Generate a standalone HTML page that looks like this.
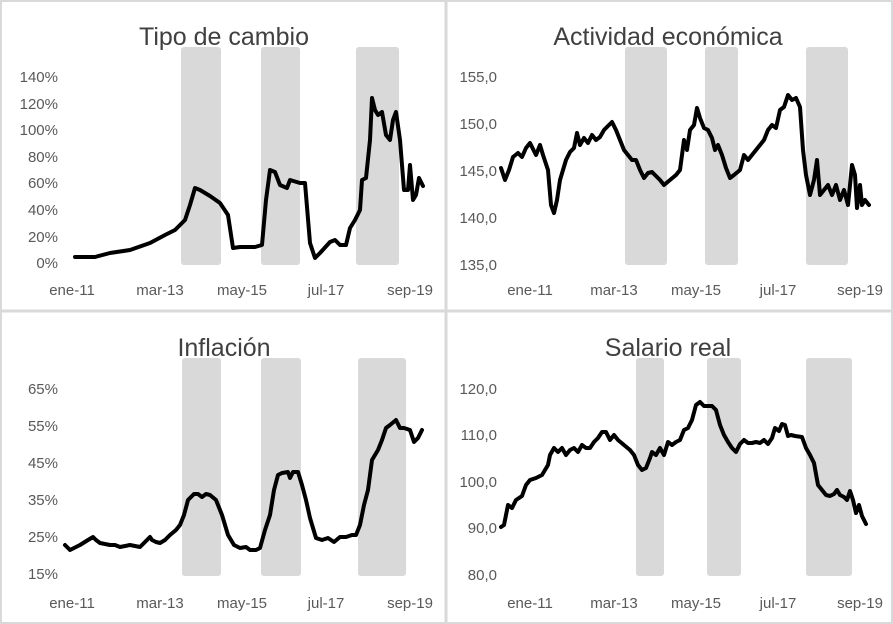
<!DOCTYPE html>
<html><head><meta charset="utf-8"><style>
body{margin:0;background:#fff}
svg{display:block}
text{font-family:"Liberation Sans",sans-serif;fill:#595959;font-size:15px}
.t{font-size:25px;fill:#404040;text-anchor:middle}
.y{text-anchor:end}
.x{text-anchor:middle}
.b{fill:#d9d9d9}
.l{fill:none;stroke:#000;stroke-width:4;stroke-linejoin:round;stroke-linecap:round}
</style></head><body>
<svg width="893" height="624" viewBox="0 0 893 624">
<rect x="1" y="1" width="891" height="622" fill="none" stroke="#d9d9d9" stroke-width="2"/>
<line x1="446" y1="0" x2="446" y2="624" stroke="#d9d9d9" stroke-width="3"/>
<line x1="0" y1="311" x2="893" y2="311" stroke="#d9d9d9" stroke-width="3"/>

<!-- TL -->
<rect class="b" x="181" y="47" width="40" height="218" rx="3"/>
<rect class="b" x="261" y="47" width="39" height="218" rx="3"/>
<rect class="b" x="356" y="47" width="43" height="218" rx="3"/>
<text class="t" x="224" y="45">Tipo de cambio</text>
<g class="y"><text x="58" y="82">140%</text><text x="58" y="109">120%</text><text x="58" y="135">100%</text><text x="58" y="162">80%</text><text x="58" y="188">60%</text><text x="58" y="215">40%</text><text x="58" y="242">20%</text><text x="58" y="268">0%</text></g>
<g class="x"><text x="72" y="295">ene-11</text><text x="160" y="295">mar-13</text><text x="242" y="295">may-15</text><text x="326" y="295">jul-17</text><text x="410" y="295">sep-19</text></g>
<polyline class="l" points="75,257 95,257 110,253 130,250 150,243 165,235 175,230 185,220 190,205 195,188 200,190 210,196 220,203 228,215 233,248 240,247 255,247 262,245 266,200 270,170 275,172 280,185 287,188 290,180 300,183 305,183 310,243 315,258 320,253 330,242 335,240 340,245 346,245 350,228 355,220 360,210 362,180 366,178 370,140 372,98 375,110 378,115 382,112 386,135 390,140 393,120 396,112 400,140 404,190 408,190 410,165 413,200 416,195 419,178 423,186"/>

<!-- TR -->
<rect class="b" x="625" y="47" width="42" height="218" rx="3"/>
<rect class="b" x="705" y="47" width="33" height="218" rx="3"/>
<rect class="b" x="806" y="47" width="42" height="218" rx="3"/>
<text class="t" x="668" y="45">Actividad económica</text>
<g class="y"><text x="497" y="82">155,0</text><text x="497" y="129">150,0</text><text x="497" y="176">145,0</text><text x="497" y="223">140,0</text><text x="497" y="270">135,0</text></g>
<g class="x"><text x="530" y="295">ene-11</text><text x="614" y="295">mar-13</text><text x="696" y="295">may-15</text><text x="778" y="295">jul-17</text><text x="860" y="295">sep-19</text></g>
<polyline class="l" points="501,168 505,180 509,170 513,157 518,153 522,157 526,148 530,143 536,155 540,145 543,155 548,170 551,205 554,213 557,200 560,180 566,160 570,152 574,148 577,133 580,145 584,138 588,143 592,135 596,140 600,137 604,130 608,126 612,122 616,130 620,140 624,150 628,155 632,160 636,160 640,170 644,178 648,173 652,172 660,180 664,185 670,180 676,175 680,170 684,140 687,150 690,130 694,125 697,108 700,118 704,128 708,130 712,138 715,150 718,145 722,155 726,168 730,178 734,175 740,170 744,155 748,160 752,155 756,150 760,145 764,140 768,130 772,125 776,128 780,110 784,107 788,95 792,100 796,98 800,107 803,150 806,175 810,195 814,180 817,160 820,195 824,190 828,185 832,195 836,185 840,200 844,190 848,205 852,165 855,175 857,208 860,185 862,205 865,200 869,205"/>

<!-- BL -->
<rect class="b" x="182" y="358" width="39" height="218" rx="3"/>
<rect class="b" x="261" y="358" width="40" height="218" rx="3"/>
<rect class="b" x="358" y="358" width="48" height="218" rx="3"/>
<text class="t" x="224" y="356">Inflación</text>
<g class="y"><text x="58" y="394">65%</text><text x="58" y="431">55%</text><text x="58" y="468">45%</text><text x="58" y="505">35%</text><text x="58" y="542">25%</text><text x="58" y="579">15%</text></g>
<g class="x"><text x="72" y="608">ene-11</text><text x="160" y="608">mar-13</text><text x="242" y="608">may-15</text><text x="326" y="608">jul-17</text><text x="410" y="608">sep-19</text></g>
<polyline class="l" points="65,545 70,550 80,545 88,540 93,537 96,540 100,543 110,545 115,545 120,547 130,545 140,547 150,537 152,540 156,542 160,543 165,540 170,535 176,530 180,525 184,515 188,500 194,494 198,494 202,497 206,494 210,495 216,500 222,515 228,535 234,545 240,548 246,547 250,550 256,550 260,548 265,530 270,515 274,490 278,475 282,473 288,472 290,478 293,472 298,472 302,485 306,500 310,518 316,538 322,540 328,538 334,542 340,537 346,537 352,535 356,535 360,525 364,505 368,490 372,460 378,450 382,440 386,428 390,425 396,420 400,428 404,428 410,430 414,442 418,438 422,430"/>

<!-- BR -->
<rect class="b" x="636" y="358" width="28" height="218" rx="3"/>
<rect class="b" x="707" y="358" width="34" height="218" rx="3"/>
<rect class="b" x="806" y="358" width="46" height="218" rx="3"/>
<text class="t" x="668" y="356">Salario real</text>
<g class="y"><text x="497" y="394">120,0</text><text x="497" y="440">110,0</text><text x="497" y="487">100,0</text><text x="497" y="533">90,0</text><text x="497" y="580">80,0</text></g>
<g class="x"><text x="530" y="608">ene-11</text><text x="614" y="608">mar-13</text><text x="696" y="608">may-15</text><text x="778" y="608">jul-17</text><text x="860" y="608">sep-19</text></g>
<polyline class="l" points="501,527 504,525 508,505 512,508 516,500 522,496 526,485 530,480 536,478 542,475 548,465 550,455 554,448 558,452 562,448 566,455 570,450 574,448 578,452 582,445 586,448 590,448 594,442 598,438 602,432 606,432 610,440 614,435 618,440 624,445 630,450 634,455 638,465 642,470 646,468 650,458 652,452 656,455 660,448 664,455 668,442 672,445 676,442 680,440 684,430 688,428 692,420 696,405 700,402 704,406 708,406 712,406 716,410 720,425 724,435 728,442 732,448 736,452 740,444 744,440 748,443 752,443 756,442 760,443 764,440 768,444 772,438 775,428 779,431 782,424 785,425 788,436 791,435 795,436 802,437 806,448 810,455 814,463 818,485 822,490 826,495 830,496 834,494 837,490 840,495 844,497 847,500 850,491 853,500 856,513 859,505 862,516 866,524"/>
</svg>
</body></html>
